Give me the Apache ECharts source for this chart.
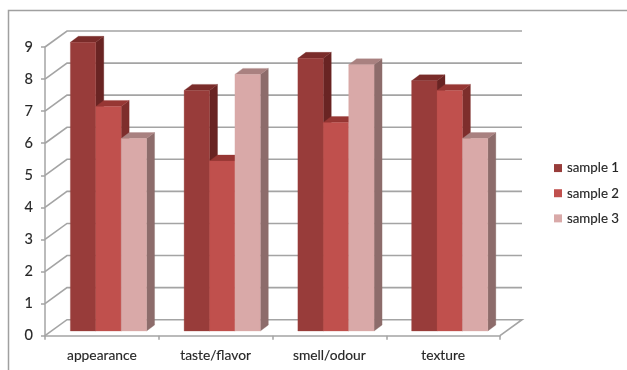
<!DOCTYPE html>
<html>
<head>
<meta charset="utf-8">
<style>html,body{margin:0;padding:0;background:#fff}#chart{width:627px;height:370px}</style>
<script src="https://cdn.jsdelivr.net/npm/echarts@6/dist/echarts.min.js"></script>
</head>
<body>
<div id="chart"></div>
<script>
// Sensory scores per attribute
const categories = ['appearance', 'taste/flavor', 'smell/odour', 'texture'];
const sample1 = [9, 7.5, 8.5, 7.8];
const sample2 = [7, 5.3, 6.5, 7.5];
const sample3 = [6, 8, 8.3, 6];
const yTicks = [0, 1, 2, 3, 4, 5, 6, 7, 8, 9];

// Oblique projection used for the pseudo-3D look
const WALL = { dx: 22, dy: -16 };
const BAR_DEPTH = { dx: 8, dy: -6 };
const BAR_LIFT = -4.7;
const BAR_BAND = 0.2233;
const GROUP_SHIFT = 6.6;

const faces = [
  { front: '#983c3a', top: '#7a2c2a', side: '#692423' },
  { front: '#c0504d', top: '#973734', side: '#7e2e2c' },
  { front: '#d9a9a8', top: '#a98180', side: '#8d6c6b' }
];

const chart = echarts.init(document.getElementById('chart'), null, { renderer: 'canvas' });

function barSeries(name, values, index) {
  return {
    name,
    type: 'custom',
    coordinateSystem: 'cartesian2d',
    clip: false,
    z: 5,
    itemStyle: { color: faces[index].front },
    encode: { x: 0, y: 1 },
    data: values.map((v, i) => [i, v]),
    renderItem(params, api) {
      const base = api.coord([api.value(0), 0]);
      const head = api.coord([api.value(0), api.value(1)]);
      const band = api.size([1, 0])[0];
      const w = band * BAR_BAND;
      const x0 = base[0] + GROUP_SHIFT + (index - 1.5) * w;
      const x1 = x0 + w;
      const yb = base[1] + BAR_LIFT;
      const yt = head[1] + BAR_LIFT;
      const d = BAR_DEPTH;
      const c = faces[index];
      const poly = (points, fill) => ({
        type: 'polygon',
        shape: { points },
        style: { fill, stroke: fill, lineWidth: 0.3 }
      });
      return {
        type: 'group',
        children: [
          poly([[x1, yb], [x1 + d.dx, yb + d.dy], [x1 + d.dx, yt + d.dy], [x1, yt]], c.side),
          poly([[x0, yt], [x1, yt], [x1 + d.dx, yt + d.dy], [x0 + d.dx, yt + d.dy]], c.top),
          poly([[x0, yb], [x1, yb], [x1, yt], [x0, yt]], c.front)
        ]
      };
    }
  };
}

// Side wall, back wall and floor rules, one polyline per tick
const wallSeries = {
  name: 'walls',
  type: 'custom',
  coordinateSystem: 'cartesian2d',
  clip: false,
  silent: true,
  z: 1,
  encode: { y: 0 },
  data: yTicks.map(v => [v]),
  renderItem(params, api) {
    const y = api.coord([0, api.value(0)])[1];
    const left = params.coordSys.x;
    const right = left + params.coordSys.width;
    const points = [[left, y], [left + WALL.dx, y + WALL.dy], [right + WALL.dx, y + WALL.dy]];
    if (api.value(0) === 0) points.push([right, y]);
    return {
      type: 'polyline',
      shape: { points },
      style: { fill: 'none', stroke: '#a4a4a4', lineWidth: 1.6 }
    };
  }
};

const axisText = {
  color: '#262626',
  fontFamily: 'Lato',
  fontSize: 13.8,
  textBorderColor: '#262626',
  textBorderWidth: 0.15
};
const axisRule = { lineStyle: { color: '#a4a4a4', width: 1.5 } };

chart.setOption({
  animation: false,
  backgroundColor: '#ffffff',
  grid: { left: 45, right: 127, top: 47, bottom: 34.3 },
  xAxis: {
    type: 'category',
    data: categories,
    axisLine: axisRule,
    axisTick: { show: true, length: 4, alignWithLabel: false, ...axisRule },
    axisLabel: { ...axisText, margin: 13 },
    splitLine: { show: false }
  },
  yAxis: {
    type: 'value',
    min: 0,
    max: 9,
    interval: 1,
    axisLine: { show: true, ...axisRule },
    axisTick: { show: true, length: 4, ...axisRule },
    axisLabel: { ...axisText, fontSize: 14.5, margin: 12 },
    splitLine: { show: false }
  },
  legend: {
    orient: 'vertical',
    left: 554,
    top: 161.5,
    padding: 0,
    itemWidth: 8,
    itemHeight: 8,
    itemGap: 12,
    icon: 'rect',
    data: ['sample 1', 'sample 2', 'sample 3'],
    textStyle: { ...axisText, fontSize: 13.3 }
  },
  graphic: [
    {
      type: 'polyline',
      silent: true,
      shape: { points: [[8.5, 370], [8.5, 10.5], [627, 10.5]] },
      style: { fill: 'none', stroke: '#a0a0a0', lineWidth: 1.5 }
    }
  ],
  series: [
    wallSeries,
    barSeries('sample 1', sample1, 0),
    barSeries('sample 2', sample2, 1),
    barSeries('sample 3', sample3, 2)
  ]
});
</script>
</body>
</html>
